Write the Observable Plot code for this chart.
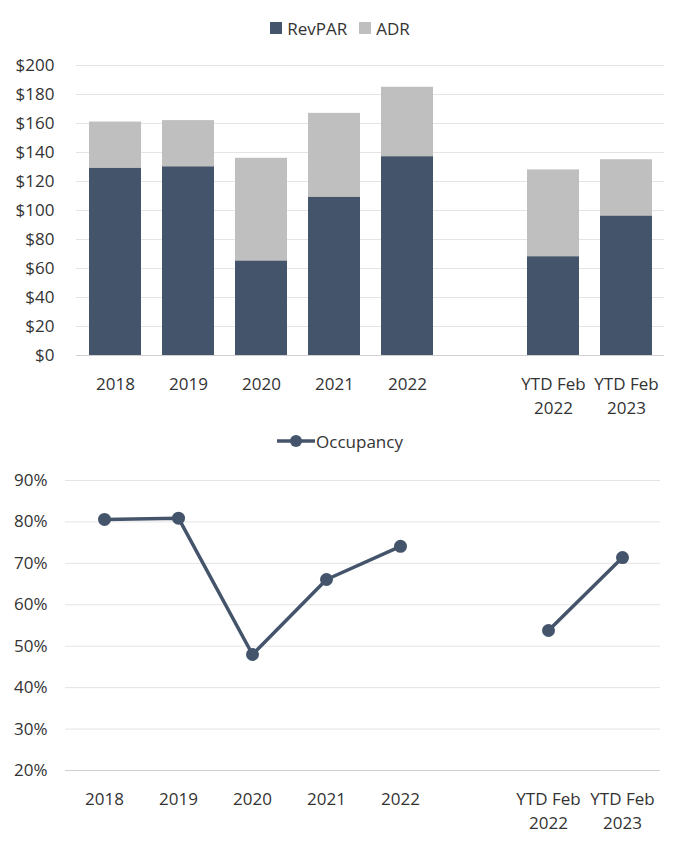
<!DOCTYPE html>
<html>
<head>
<meta charset="utf-8">
<script src="https://cdn.jsdelivr.net/npm/d3@7"></script>
<script src="https://cdn.jsdelivr.net/npm/@observablehq/plot@0.6"></script>
<style>
  html, body { margin: 0; padding: 0; background: #fff; }
  body { width: 680px; font-family: "Open Sans", "Noto Sans", sans-serif; color: #333; }
  .legend { display: flex; justify-content: center; align-items: center; font-size: 17px; height: 24px; }
  .legend .item { display: flex; align-items: center; margin: 0 6px; }
  .sw { width: 12px; height: 12px; margin-right: 5px; }
  svg { display: block; }
</style>
</head>
<body>
<div id="root"></div>
<script>
// Data
const categories = ["2018", "2019", "2020", "2021", "2022", " ", "YTD Feb 2022", "YTD Feb 2023"];
const periods    = ["annual", "annual", "annual", "annual", "annual", null, "ytd", "ytd"];
const adr        = [161, 162, 136, 167, 185, null, 128, 135];
const revpar     = [129, 130, 65, 109, 137, null, 68, 96];
const occupancy  = [0.806, 0.809, 0.480, 0.661, 0.741, null, 0.538, 0.714];
const dollarTicks = [0, 20, 40, 60, 80, 100, 120, 140, 160, 180, 200];
const pctTicks    = [0.2, 0.3, 0.4, 0.5, 0.6, 0.7, 0.8, 0.9];

const dark = "#44546a";
const light = "#bfbfbf";
const font = '"Open Sans", "Noto Sans", sans-serif';

const rows = categories.map((c, i) => ({cat: c, period: periods[i], adr: adr[i], revpar: revpar[i], occ: occupancy[i]}))
  .filter(d => d.period !== null);

const fmtCat = c => c.startsWith("YTD") ? c.replace(/ (\d{4})$/, "\n$1") : (c.trim() === "" ? "" : c);

const root = document.getElementById("root");

// Legend 1
const lg1 = document.createElement("div");
lg1.className = "legend";
lg1.style.marginTop = "16px";
lg1.innerHTML = `<div class="item"><div class="sw" style="background:${dark}"></div>RevPAR</div>
<div class="item"><div class="sw" style="background:${light}"></div>ADR</div>`;
root.appendChild(lg1);

const chart1 = Plot.plot({
  width: 680,
  height: 375,
  marginTop: 25,
  marginBottom: 60,
  marginLeft: 76,
  marginRight: 16,
  style: {fontFamily: font, fontSize: "17px", color: "#333", overflow: "visible"},
  x: {domain: categories, paddingInner: 0.29, paddingOuter: 0.145, label: null},
  y: {domain: [0, 200], label: null},
  marks: [
    Plot.gridY(dollarTicks, {stroke: "#e4e4e4", strokeOpacity: 1}),
    Plot.barY(rows, {x: "cat", y: "adr", fill: light}),
    Plot.barY(rows, {x: "cat", y: "revpar", fill: dark}),
    Plot.ruleY([0], {stroke: "#d0d0d0", strokeWidth: 1.2}),
    Plot.axisY({ticks: dollarTicks, tickSize: 0, tickPadding: 22, tickFormat: d => "$" + d, fill: "#333", label: null}),
    Plot.axisX({tickSize: 0, tickPadding: 17, tickFormat: fmtCat, lineHeight: 1.42, fill: "#333", label: null})
  ]
});
root.appendChild(chart1);

// Legend 2
const lg2 = document.createElement("div");
lg2.className = "legend";
lg2.style.marginTop = "14px";
lg2.innerHTML = `<div class="item"><svg width="38" height="14" style="margin-right:1px"><line x1="0" y1="7" x2="38" y2="7" stroke="${dark}" stroke-width="3.5"/><circle cx="19" cy="7" r="6" fill="${dark}"/></svg>Occupancy</div>`;
root.appendChild(lg2);

const chart2 = Plot.plot({
  width: 680,
  height: 390,
  marginTop: 27,
  marginBottom: 73,
  marginLeft: 65,
  marginRight: 20,
  style: {fontFamily: font, fontSize: "17px", color: "#333", overflow: "visible"},
  x: {type: "point", domain: categories, padding: 0.5, label: null},
  y: {domain: [0.2, 0.9], label: null},
  marks: [
    Plot.gridY(pctTicks.slice(1), {stroke: "#e4e4e4", strokeOpacity: 1}),
    Plot.ruleY([0.2], {stroke: "#d0d0d0", strokeWidth: 1.2}),
    Plot.line(rows, {x: "cat", y: "occ", z: "period", stroke: dark, strokeWidth: 3.5}),
    Plot.dot(rows, {x: "cat", y: "occ", r: 6.5, fill: dark}),
    Plot.axisY({ticks: pctTicks, tickSize: 0, tickPadding: 18, tickFormat: d => Math.round(d * 100) + "%", fill: "#333", label: null}),
    Plot.axisX({tickSize: 0, tickPadding: 17, tickFormat: fmtCat, lineHeight: 1.42, fill: "#333", label: null})
  ]
});
root.appendChild(chart2);
</script>
</body>
</html>
